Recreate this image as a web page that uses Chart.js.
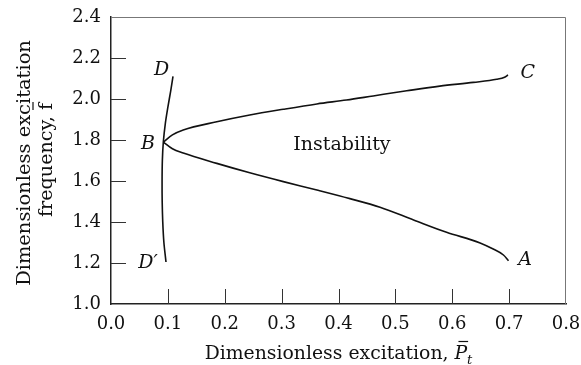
<!DOCTYPE html>
<html>
<head>
<meta charset="utf-8">
<script src="https://cdn.jsdelivr.net/npm/chart.js@4.4.1/dist/chart.umd.min.js"></script>
<style>
  html, body { margin: 0; padding: 0; background: #fff; }
  #wrap { width: 581px; height: 365px; }
</style>
</head>
<body>
<div id="wrap"><canvas id="stability_chart"></canvas></div>
<script>
// boundary curve D' - B - D
var dX = [0.0967, 0.093, 0.091, 0.090, 0.0898, 0.0903, 0.092, 0.0955, 0.100, 0.105, 0.109];
var dY = [1.205, 1.30, 1.40, 1.50, 1.60, 1.70, 1.790, 1.88, 1.96, 2.04, 2.11];

// upper branch B - C
var upperX = [0.092, 0.108, 0.127, 0.186, 0.244, 0.303, 0.362, 0.414, 0.461, 0.520, 0.578, 0.637, 0.678, 0.692, 0.698];
var upperY = [1.790, 1.825, 1.849, 1.889, 1.922, 1.950, 1.976, 1.995, 2.015, 2.040, 2.063, 2.081, 2.096, 2.106, 2.117];

// lower branch B - A
var lowerX = [0.092, 0.108, 0.127, 0.186, 0.244, 0.303, 0.362, 0.420, 0.473, 0.532, 0.590, 0.649, 0.672, 0.690, 0.699];
var lowerY = [1.790, 1.757, 1.736, 1.686, 1.640, 1.597, 1.556, 1.514, 1.472, 1.410, 1.350, 1.298, 1.268, 1.239, 1.211];

var xTicks = [0.0, 0.1, 0.2, 0.3, 0.4, 0.5, 0.6, 0.7, 0.8];
var yTicks = [1.0, 1.2, 1.4, 1.6, 1.8, 2.0, 2.2, 2.4];

// point labels: text, x, y, italic
var labels = [
    ["D", 0.089, 2.141, true],
    ["B", 0.065, 1.782, true],
    ["C", 0.733, 2.127, true],
    ["A", 0.728, 1.215, true],
    ["D\u2032", 0.065, 1.200, true],
    ["Instability", 0.406, 1.776, false]
];

var serif = "'DejaVu Serif', serif";

function toPoints(xs, ys) {
    return xs.map(function (x, i) { return {x: x, y: ys[i]}; });
}

function lineSet(xs, ys, smooth) {
    return {
        data: toPoints(xs, ys),
        showLine: true,
        borderColor: '#111',
        borderWidth: 1.6,
        pointRadius: 0,
        tension: 0.3,
        cubicInterpolationMode: smooth ? 'monotone' : 'default',
        fill: false
    };
}

// font size that makes text span the given width
function fitSize(ctx, text, width, style) {
    ctx.font = style + '20px ' + serif;
    return 20 * width / ctx.measureText(text).width;
}

var framePlugin = {
    id: 'frame',
    afterDraw: function (chart) {
        var ctx = chart.ctx;
        var a = chart.chartArea;
        var xs = chart.scales.x, ys = chart.scales.y;
        ctx.save();

        // top and right edges of the frame
        ctx.strokeStyle = '#777';
        ctx.lineWidth = 1;
        ctx.beginPath();
        ctx.moveTo(a.left, a.top + 0.5);
        ctx.lineTo(a.right - 0.5, a.top + 0.5);
        ctx.lineTo(a.right - 0.5, a.bottom);
        ctx.stroke();

        // tick marks pointing into the plot
        ctx.strokeStyle = '#333';
        ctx.beginPath();
        xTicks.slice(1, -1).forEach(function (v) {
            var px = Math.round(xs.getPixelForValue(v)) + 0.5;
            ctx.moveTo(px, a.bottom);
            ctx.lineTo(px, a.bottom - 15);
        });
        yTicks.slice(1, -1).forEach(function (v) {
            var py = Math.round(ys.getPixelForValue(v)) + 0.5;
            ctx.moveTo(a.left, py);
            ctx.lineTo(a.left + 15, py);
        });
        ctx.stroke();

        // curve labels
        ctx.fillStyle = '#111';
        ctx.strokeStyle = '#111';
        ctx.textAlign = 'center';
        ctx.textBaseline = 'middle';
        labels.forEach(function (l) {
            ctx.font = (l[3] ? 'italic ' : '') + '19px ' + serif;
            ctx.fillText(l[0], xs.getPixelForValue(l[1]), ys.getPixelForValue(l[2]));
        });

        // x axis title with barred, subscripted P
        var t = 'Dimensionless excitation, ';
        var fs = fitSize(ctx, t, 250, '');
        ctx.font = fs + 'px ' + serif;
        var w1 = ctx.measureText(t).width;
        ctx.font = 'italic ' + fs + 'px ' + serif;
        var wP = ctx.measureText('P').width;
        ctx.font = 'italic 13px ' + serif;
        var wt = ctx.measureText('t').width;
        var total = w1 + wP + wt;
        var cx = (a.left + a.right) / 2;
        var x0 = cx - total / 2;
        var ty = 359;
        ctx.textAlign = 'left';
        ctx.textBaseline = 'alphabetic';
        ctx.font = fs + 'px ' + serif;
        ctx.fillText(t, x0, ty);
        ctx.font = 'italic ' + fs + 'px ' + serif;
        ctx.fillText('P', x0 + w1, ty);
        ctx.font = 'italic 13px ' + serif;
        ctx.fillText('t', x0 + w1 + wP, ty + 5);
        ctx.lineWidth = 1.2;
        ctx.beginPath();
        ctx.moveTo(x0 + w1 + 4, ty - 17.5);
        ctx.lineTo(x0 + w1 + wP + 1, ty - 17.5);
        ctx.stroke();

        // y axis title, two rotated lines
        ctx.rotate(-Math.PI / 2);
        ctx.textAlign = 'center';
        var l1 = 'Dimensionless excitation';
        ctx.font = fitSize(ctx, l1, 246, '') + 'px ' + serif;
        ctx.fillText(l1, -163, 30);
        var s = 'frequency, f';
        ctx.font = fitSize(ctx, s, 114, '') + 'px ' + serif;
        var ws = ctx.measureText(s).width;
        ctx.fillText(s, -160, 52);
        var wf = ctx.measureText('f').width;
        ctx.beginPath();
        ctx.moveTo(-160 + ws / 2 - wf, 52 - 19);
        ctx.lineTo(-160 + ws / 2 + 1, 52 - 19);
        ctx.stroke();

        ctx.restore();
    }
};

new Chart(document.getElementById("stability_chart").getContext("2d"), {
    type: 'scatter',
    data: {
        datasets: [lineSet(dX, dY, false), lineSet(upperX, upperY, true), lineSet(lowerX, lowerY, true)]
    },
    options: {
        responsive: true,
        maintainAspectRatio: false,
        animation: false,
        layout: { padding: { left: 0, right: 15, top: 17, bottom: 0 } },
        plugins: { legend: { display: false }, tooltip: { enabled: false } },
        scales: {
            x: {
                type: 'linear',
                min: 0, max: 0.8,
                afterBuildTicks: function (s) { s.ticks = xTicks.map(function (v) { return {value: v}; }); },
                afterFit: function (s) { s.height = 61; s.paddingLeft = 0; s.paddingRight = 0; },
                grid: { display: false, drawTicks: false },
                border: { color: '#222', width: 1.5 },
                ticks: {
                    padding: 10,
                    color: '#111',
                    font: { family: serif, size: 18 },
                    maxRotation: 0,
                    callback: function (v) { return v.toFixed(1); }
                }
            },
            y: {
                type: 'linear',
                min: 1.0, max: 2.4,
                afterBuildTicks: function (s) { s.ticks = yTicks.map(function (v) { return {value: v}; }); },
                afterFit: function (s) { s.width = 111; s.paddingTop = 0; s.paddingBottom = 0; },
                grid: { display: false, drawTicks: false },
                border: { color: '#222', width: 1.5 },
                ticks: {
                    padding: 10,
                    color: '#111',
                    font: { family: serif, size: 18 },
                    callback: function (v) { return v.toFixed(1); }
                }
            }
        }
    },
    plugins: [framePlugin]
});
</script>
</body>
</html>
